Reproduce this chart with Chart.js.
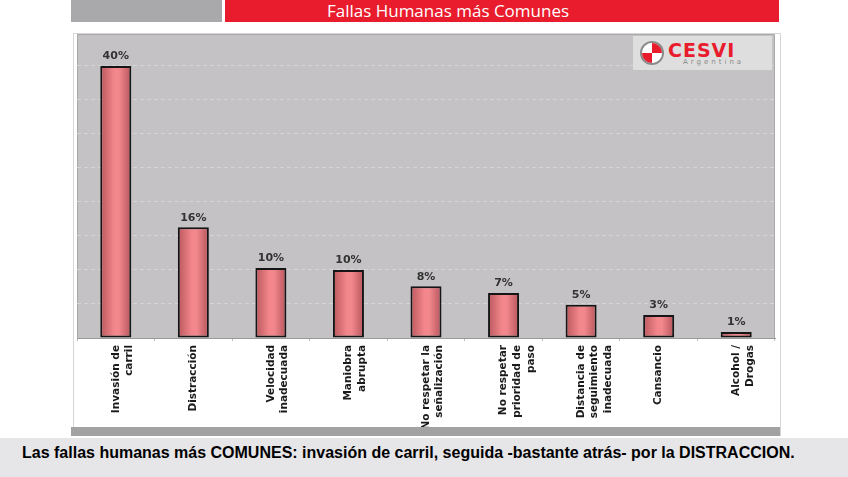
<!DOCTYPE html>
<html>
<head>
<meta charset="utf-8">
<script src="https://cdn.jsdelivr.net/npm/chart.js@4.4.1/dist/chart.umd.min.js"></script>
<style>
  html, body { margin: 0; padding: 0; background: #fff; }
  body { width: 848px; height: 477px; position: relative; overflow: hidden; font-family: "Liberation Sans", Arial, sans-serif; }
  .hdr-gray { position: absolute; left: 71px; top: 0; width: 151px; height: 22px; background: #a9a9ab; }
  .hdr-red { position: absolute; left: 225px; top: 0; width: 554px; height: 22px; background: #e81c2c; }
  .hdr-title { position: absolute; left: 225px; top: 0; width: 446px; text-align: center; color: #fff;
               font-family: "Open Sans", sans-serif; font-size: 17px; line-height: 21px; }
  .frame { position: absolute; left: 73px; top: 33px; width: 708px; height: 403px; border: 1px solid #d6d6d6; box-sizing: border-box; }
  .base { position: absolute; left: 71px; top: 427px; width: 709px; height: 9px; background: #a2a2a2; }
  .wrap { position: absolute; left: 71px; top: 25px; width: 710px; height: 402px; }
  .logo { position: absolute; left: 633px; top: 36px; width: 139px; height: 34px; background: #dedede; }
  .logo .mark { position: absolute; left: 9px; top: 7px; width: 20px; height: 20px; border-radius: 50%;
                background: conic-gradient(#e81c2c 0 90deg, #fff 90deg 180deg, #e81c2c 180deg 270deg, #fff 270deg 360deg);
                box-shadow: 0 0 0 2px #8a8a8a; }
  .logo .name { position: absolute; left: 35px; top: 3px; color: #e81c2c; font-family: "DejaVu Sans", sans-serif;
                font-weight: bold; font-size: 19px; letter-spacing: 1px; line-height: 22px; }
  .logo .sub { position: absolute; left: 50px; top: 22px; color: #8a8a8a; font-family: "DejaVu Sans", sans-serif;
               font-size: 7px; letter-spacing: 3px; line-height: 9px; }
  .caption { position: absolute; left: 0; top: 438px; width: 848px; height: 39px; background: #e6e5e8; }
  .caption span { position: absolute; left: 22px; top: 6px; font-weight: bold; font-size: 16px; color: #000;
                  white-space: nowrap; line-height: 18px; }
</style>
</head>
<body>
<div class="hdr-gray"></div>
<div class="hdr-red"></div>
<div class="hdr-title">Fallas Humanas más Comunes</div>
<div class="frame"></div>
<div class="wrap"><canvas id="fallasChart" width="710" height="402"></canvas></div>
<div class="base"></div>
<div class="logo"><div class="mark"></div><div class="name">CESVI</div><div class="sub">Argentina</div></div>
<div class="caption"><span>Las fallas humanas más COMUNES: invasión de carril, seguida -bastante atrás- por la DISTRACCION.</span></div>

<script>
// ========================================
// DATA
// ========================================

const categorias = [
    ['Invasión de', 'carril'],
    ['Distracción'],
    ['Velocidad', 'inadecuada'],
    ['Maniobra', 'abrupta'],
    ['No respetar la', 'señalización'],
    ['No respetar', 'prioridad de', 'paso'],
    ['Distancia de', 'seguimiento', 'inadecuada'],
    ['Cansancio'],
    ['Alcohol /', 'Drogas']
];
const porcentajes = [40, 16.3, 10.3, 10.0, 7.6, 6.6, 4.9, 3.4, 0.9];
const etiquetas = ['40%', '16%', '10%', '10%', '8%', '7%', '5%', '3%', '1%'];

// ========================================
// PLUGINS
// ========================================

const fondoPlot = {
    id: 'fondoPlot',
    beforeDraw: (chart) => {
        const { ctx, chartArea: a } = chart;
        ctx.save();
        ctx.fillStyle = '#c4c2c4';
        ctx.fillRect(a.left, a.top, a.right - a.left, a.bottom - a.top);
        ctx.strokeStyle = '#a9a9a9';
        ctx.lineWidth = 1;
        ctx.beginPath();
        ctx.moveTo(a.left + 0.5, a.bottom);
        ctx.lineTo(a.left + 0.5, a.top + 0.5);
        ctx.lineTo(a.right - 0.5, a.top + 0.5);
        ctx.lineTo(a.right - 0.5, a.bottom);
        ctx.stroke();
        ctx.restore();
    }
};

const valores = {
    id: 'valores',
    afterDatasetsDraw: (chart) => {
        const { ctx } = chart;
        const meta = chart.getDatasetMeta(0);
        ctx.save();
        ctx.font = 'bold 11px "DejaVu Sans"';
        ctx.fillStyle = '#333';
        ctx.textAlign = 'center';
        ctx.textBaseline = 'bottom';
        meta.data.forEach((bar, i) => {
            ctx.fillText(etiquetas[i], bar.x, bar.y - 4);
        });
        ctx.restore();
    }
};

const degradado = (context) => {
    const chart = context.chart;
    const x = chart.scales.x;
    if (!chart.chartArea || !x || context.dataIndex === undefined) return '#e87878';
    const cx = x.getPixelForValue(context.dataIndex);
    const half = 16;
    const g = chart.ctx.createLinearGradient(cx - half, 0, cx + half, 0);
    g.addColorStop(0, '#b8565c');
    g.addColorStop(0.45, '#f2868b');
    g.addColorStop(0.6, '#f2888d');
    g.addColorStop(1, '#b4525a');
    return g;
};

// ========================================
// CHART
// ========================================

new Chart(document.getElementById('fallasChart'), {
    type: 'bar',
    data: {
        labels: categorias,
        datasets: [{
            data: porcentajes,
            backgroundColor: degradado,
            borderColor: '#151515',
            borderWidth: 2,
            borderSkipped: false,
            barPercentage: 0.4,
            categoryPercentage: 1
        }]
    },
    options: {
        responsive: false,
        animation: false,
        layout: { padding: { left: 6, right: 6, top: 9, bottom: 0 } },
        plugins: { legend: { display: false }, tooltip: { enabled: false } },
        scales: {
            x: {
                afterFit: (scale) => { scale.height = 89; },
                grid: { drawOnChartArea: false, drawTicks: true, tickLength: 3, color: '#bdbdbd', offset: true },
                border: { display: true, color: '#9a9a9a', width: 1 },
                ticks: {
                    minRotation: 90,
                    maxRotation: 90,
                    autoSkip: false,
                    padding: 4,
                    color: '#1a1a1a',
                    font: { family: 'DejaVu Sans', size: 10.5, weight: 'bold', lineHeight: 1.3 }
                }
            },
            y: {
                min: 0,
                max: 44.7,
                afterFit: (scale) => { scale.width = 0; },
                ticks: { display: false, stepSize: 5 },
                grid: {
                    drawTicks: false,
                    color: (c) => (c.tick && c.tick.value % 5 === 0 && c.tick.value > 0) ? '#d6d5d6' : 'rgba(0,0,0,0)',
                    lineWidth: 1
                },
                border: { display: false, dash: [4, 3] }
            }
        }
    },
    plugins: [fondoPlot, valores]
});
</script>
</body>
</html>
